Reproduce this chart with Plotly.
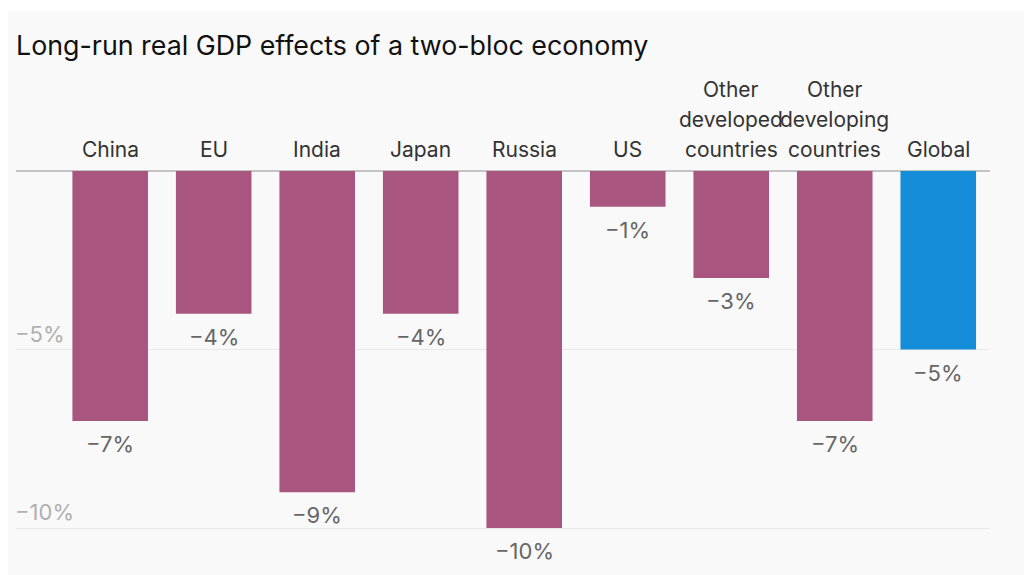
import plotly.graph_objects as go

categories = ["China", "EU", "India", "Japan", "Russia", "US",
              "Other<br>developed<br>countries", "Other<br>developing<br>countries", "Global"]
values = [-7, -4, -9, -4, -10, -1, -3, -7, -5]
value_labels = ["−7%", "−4%", "−9%", "−4%", "−10%", "−1%", "−3%", "−7%", "−5%"]
tick_vals = [-5, -10]
tick_text = ["−5%", "−10%"]

FONT = "Inter"
bar_colors = ["#a8567f"] * 8 + ["#168dd9"]
x_idx = list(range(len(categories)))

fig = go.Figure()
fig.add_trace(go.Bar(
    x=x_idx, y=values, marker=dict(color=bar_colors, line=dict(width=0)),
    width=0.73, hoverinfo="skip", showlegend=False,
))

annotations = []
for i, (cat, v, lab) in enumerate(zip(categories, values, value_labels)):
    lines = cat.split("<br>")
    for k, line in enumerate(reversed(lines)):
        annotations.append(dict(
            x=i, y=0, xref="x", yref="y", text=line, showarrow=False,
            yanchor="middle", xanchor="center", yshift=22 + 30 * k,
            font=dict(family=FONT, size=21, color="#333333"),
        ))
    annotations.append(dict(
        x=i, y=v, xref="x", yref="y", text=lab, showarrow=False,
        yanchor="middle", xanchor="center", yshift=-23,
        font=dict(family=FONT, size=22, color="#666666"),
    ))

fig.update_layout(
    width=1034, height=575,
    margin=dict(l=8, r=52, t=152, b=23),
    paper_bgcolor="#ffffff",
    plot_bgcolor="rgba(0,0,0,0)",
    title=dict(text="Long-run real GDP effects of a two-bloc economy",
               x=8 / 1034, xanchor="left", y=1 - 38 / 575, yanchor="middle",
               font=dict(family=FONT, size=26.8, color="#111111")),
    xaxis=dict(range=[-0.91, 8.5], showticklabels=False, showgrid=False,
               zeroline=False, fixedrange=True),
    yaxis=dict(range=[-10.896, 0.308], tickvals=tick_vals, ticktext=tick_text,
               ticklabelposition="inside top", ticklabelstandoff=-4,
               showgrid=True, gridcolor="#e9e9e9",
               zeroline=True, zerolinecolor="#c4c4c4", zerolinewidth=1.5,
               tickfont=dict(family=FONT, size=22, color="#b0b0b0")),
    annotations=annotations,
    shapes=[dict(type="rect", xref="paper", yref="paper",
                 x0=-0.0103, x1=1.0349, y0=-0.06, y1=1.3725,
                 fillcolor="#f9f9f9", line=dict(width=0), layer="below")],
    bargap=0.27,
)

fig.write_html("out.html")
